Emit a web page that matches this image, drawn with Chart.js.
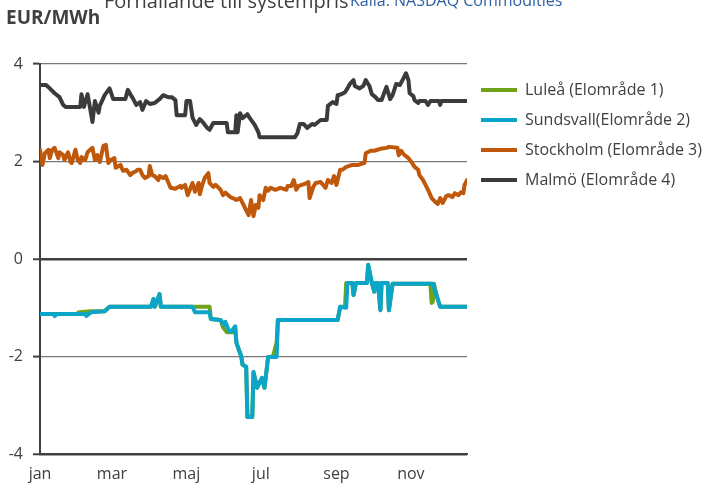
<!DOCTYPE html>
<html>
<head>
<meta charset="utf-8">
<script src="https://cdn.jsdelivr.net/npm/chart.js@4/dist/chart.umd.min.js"></script>
<style>
  html, body { margin: 0; padding: 0; background: #fff; }
  #wrap { width: 704px; height: 487px; position: relative; }
</style>
</head>
<body>
<div id="wrap"><canvas id="spreadChart"></canvas></div>
<script>
// days since 1 jan, month ticks and labels
const monthStarts = [0, 59, 120, 181, 243, 304];
const monthLabels = ["jan", "mar", "maj", "jul", "sep", "nov"];

const titleText = "Förhållande till systempris";
const sourceText = "Källa: NASDAQ Commodities";
const unitText = "EUR/MWh";

const seriesNames = ["Luleå (Elområde 1)", "Sundsvall(Elområde 2)", "Stockholm (Elområde 3)", "Malmö (Elområde 4)"];
const seriesColors = ["#6fa31a", "#0ba5c9", "#c0580c", "#3b3b3b"];

const luleaDays = [0, 30, 32, 42, 53, 57, 91, 93, 94, 98, 99, 139, 140, 148, 150, 153, 158, 160, 161, 165, 166, 169, 170, 174, 175, 178, 182, 184, 187, 191, 194, 195, 244, 246, 250, 251, 256, 257, 259, 268, 269, 272, 274, 275, 277, 279, 280, 285, 286, 289, 320, 321, 322, 323, 325, 328, 350];
const luleaValues = [-1.13, -1.13, -1.09, -1.07, -1.07, -0.98, -0.98, -0.82, -0.98, -0.72, -0.98, -0.98, -1.23, -1.25, -1.40, -1.50, -1.50, -1.42, -1.72, -2.00, -2.17, -2.21, -3.24, -3.24, -2.32, -2.64, -2.44, -2.64, -2.01, -2.00, -1.70, -1.25, -1.25, -0.98, -0.98, -0.49, -0.49, -0.74, -0.49, -0.49, -0.12, -0.49, -0.67, -0.49, -0.49, -1.05, -0.49, -0.49, -1.05, -0.51, -0.51, -0.90, -0.88, -0.51, -0.74, -0.98, -0.98];

const sundsvallDays = [0, 11, 12, 14, 37, 38, 42, 53, 57, 91, 93, 94, 98, 99, 125, 127, 139, 140, 148, 151, 152, 155, 157, 160, 161, 165, 166, 169, 170, 174, 175, 178, 182, 184, 187, 194, 195, 244, 246, 251, 252, 256, 257, 259, 268, 269, 272, 274, 275, 277, 279, 280, 285, 286, 289, 322, 325, 328, 350];
const sundsvallValues = [-1.13, -1.13, -1.17, -1.13, -1.13, -1.17, -1.09, -1.07, -0.98, -0.98, -0.82, -0.98, -0.72, -0.98, -0.98, -1.09, -1.09, -1.23, -1.25, -1.35, -1.29, -1.48, -1.48, -1.38, -1.72, -2.00, -2.17, -2.21, -3.24, -3.24, -2.32, -2.64, -2.44, -2.64, -2.01, -2.01, -1.25, -1.25, -0.98, -1.00, -0.49, -0.49, -0.74, -0.49, -0.49, -0.12, -0.49, -0.67, -0.49, -0.49, -1.05, -0.49, -0.49, -1.05, -0.51, -0.51, -0.74, -0.98, -0.98];

const stockholmDays = [0, 2, 4, 7, 8, 10, 12, 15, 16, 19, 20, 23, 25, 26, 29, 31, 33, 34, 37, 39, 41, 43, 45, 47, 49, 52, 54, 56, 58, 61, 62, 66, 68, 71, 74, 76, 78, 80, 82, 84, 86, 89, 90, 92, 94, 97, 98, 101, 103, 105, 107, 111, 115, 116, 119, 121, 125, 127, 130, 131, 133, 135, 138, 139, 142, 144, 148, 150, 152, 156, 158, 161, 164, 166, 169, 171, 173, 175, 177, 179, 180, 183, 185, 187, 189, 193, 197, 202, 203, 206, 208, 210, 212, 217, 220, 221, 224, 226, 230, 234, 236, 239, 241, 243, 246, 248, 251, 256, 261, 266, 267, 271, 274, 279, 284, 286, 293, 294, 296, 298, 302, 305, 307, 310, 311, 314, 316, 318, 320, 321, 324, 326, 328, 330, 333, 335, 338, 340, 343, 345, 347, 348, 350];
const stockholmValues = [2.24, 1.93, 2.17, 2.24, 2.07, 2.24, 2.28, 2.07, 2.19, 2.13, 2.03, 2.19, 1.99, 1.97, 2.24, 2.03, 1.97, 2.09, 2.03, 2.19, 2.24, 2.28, 2.03, 2.13, 1.99, 2.32, 2.34, 1.97, 2.03, 2.07, 1.87, 1.93, 1.81, 1.83, 1.72, 1.77, 1.79, 1.83, 1.83, 1.72, 1.66, 1.70, 1.91, 1.72, 1.70, 1.62, 1.70, 1.66, 1.70, 1.58, 1.46, 1.44, 1.50, 1.46, 1.52, 1.31, 1.56, 1.38, 1.56, 1.33, 1.52, 1.66, 1.76, 1.56, 1.48, 1.52, 1.42, 1.31, 1.36, 1.27, 1.25, 1.21, 1.25, 1.15, 1.00, 0.90, 1.21, 0.88, 1.11, 1.05, 1.31, 1.21, 1.46, 1.40, 1.46, 1.42, 1.46, 1.42, 1.50, 1.50, 1.62, 1.42, 1.50, 1.54, 1.58, 1.25, 1.48, 1.56, 1.58, 1.46, 1.62, 1.56, 1.70, 1.52, 1.83, 1.83, 1.89, 1.93, 1.93, 1.97, 2.17, 2.22, 2.22, 2.26, 2.28, 2.30, 2.28, 2.13, 2.22, 2.15, 2.07, 1.97, 1.89, 1.83, 1.72, 1.62, 1.52, 1.42, 1.31, 1.25, 1.17, 1.13, 1.25, 1.15, 1.29, 1.31, 1.27, 1.35, 1.31, 1.37, 1.35, 1.52, 1.62];

const malmoDays = [0, 5, 8, 12, 16, 19, 21, 33, 34, 36, 39, 41, 43, 45, 48, 49, 53, 57, 60, 70, 72, 75, 76, 79, 82, 84, 87, 90, 94, 98, 101, 105, 108, 111, 112, 117, 119, 120, 123, 125, 128, 131, 134, 137, 139, 142, 153, 154, 160, 161, 162, 164, 166, 170, 172, 176, 179, 180, 209, 211, 213, 216, 219, 223, 225, 230, 235, 236, 240, 243, 244, 247, 250, 252, 254, 257, 258, 262, 265, 267, 270, 272, 275, 277, 280, 282, 284, 287, 289, 292, 295, 298, 300, 302, 303, 306, 307, 310, 311, 316, 318, 320, 327, 328, 329, 350];
const malmoValues = [3.57, 3.57, 3.50, 3.40, 3.32, 3.16, 3.12, 3.12, 3.38, 3.12, 3.38, 3.10, 2.81, 3.24, 3.00, 3.14, 3.36, 3.50, 3.28, 3.28, 3.47, 3.34, 3.30, 3.16, 3.22, 3.06, 3.24, 3.18, 3.20, 3.28, 3.36, 3.32, 3.32, 3.26, 2.95, 2.95, 2.95, 3.24, 3.24, 2.90, 2.75, 2.87, 2.79, 2.69, 2.65, 2.79, 2.79, 2.60, 2.60, 2.95, 2.60, 2.99, 2.89, 2.97, 2.89, 2.75, 2.60, 2.50, 2.50, 2.58, 2.77, 2.77, 2.69, 2.77, 2.75, 2.85, 2.85, 3.14, 3.22, 3.18, 3.36, 3.38, 3.42, 3.50, 3.59, 3.67, 3.55, 3.50, 3.55, 3.67, 3.55, 3.38, 3.32, 3.26, 3.26, 3.40, 3.53, 3.28, 3.36, 3.59, 3.57, 3.71, 3.81, 3.67, 3.40, 3.34, 3.26, 3.20, 3.24, 3.24, 3.16, 3.24, 3.24, 3.16, 3.24, 3.24];

const axisColor = "#404040";
const textColor = "#404040";

function toPoints(days, values) {
    return days.map((d, i) => ({ x: d, y: values[i] }));
}

function makeDataset(index, days, values, order) {
    return {
        label: seriesNames[index],
        data: toPoints(days, values),
        borderColor: seriesColors[index],
        backgroundColor: seriesColors[index],
        borderWidth: 4,
        borderCapStyle: "round",
        borderJoinStyle: "round",
        pointRadius: 0,
        tension: 0,
        order: order
    };
}

// title lines and unit label sit above the plot
const headerText = {
    id: "headerText",
    afterDraw(chart) {
        const ctx = chart.ctx;
        ctx.save();
        ctx.textBaseline = "alphabetic";
        ctx.fillStyle = textColor;
        ctx.font = "20px 'Open Sans'";
        ctx.fillText(titleText, 104, 8);
        ctx.fillStyle = "#2f5fa5";
        ctx.font = "16px 'Open Sans'";
        ctx.fillText(sourceText, 350, 6);
        ctx.fillStyle = textColor;
        ctx.font = "bold 19px 'Open Sans'";
        ctx.fillText(unitText, 6, 24);
        ctx.restore();
    }
};

const canvas = document.getElementById("spreadChart");

new Chart(canvas, {
    type: "line",
    data: {
        datasets: [
            makeDataset(0, luleaDays, luleaValues, 1),
            makeDataset(1, sundsvallDays, sundsvallValues, 0),
            makeDataset(2, stockholmDays, stockholmValues, 2),
            makeDataset(3, malmoDays, malmoValues, 3)
        ]
    },
    plugins: [headerText],
    options: {
        responsive: true,
        maintainAspectRatio: false,
        animation: false,
        layout: {
            padding: { top: 64, left: 0, right: 0, bottom: 0 }
        },
        plugins: {
            title: { display: false },
            tooltip: { enabled: false },
            legend: {
                position: "right",
                align: "start",
                maxWidth: 237,
                // empty title only adds a small gap above the items
                title: {
                    display: true,
                    text: "",
                    font: { size: 4, lineHeight: 1 },
                    padding: 0
                },
                labels: {
                    usePointStyle: true,
                    pointStyle: "line",
                    pointStyleWidth: 36,
                    boxHeight: 16,
                    padding: 14,
                    color: textColor,
                    font: { family: "Open Sans", size: 16 },
                    sort: (a, b) => a.datasetIndex - b.datasetIndex
                }
            }
        },
        scales: {
            x: {
                type: "linear",
                min: 0,
                max: 350,
                afterBuildTicks: scale => {
                    scale.ticks = monthStarts.map(v => ({ value: v }));
                },
                afterFit: scale => {
                    scale.height = 33;
                },
                ticks: {
                    autoSkip: false,
                    maxRotation: 0,
                    padding: 11,
                    color: textColor,
                    font: { family: "Open Sans", size: 16 },
                    callback: (value, index) => monthLabels[index]
                },
                grid: { display: false, drawTicks: false },
                border: { display: true, color: axisColor, width: 2 }
            },
            y: {
                min: -4,
                max: 4,
                afterFit: scale => {
                    scale.width = 40;
                },
                ticks: {
                    stepSize: 2,
                    padding: 10,
                    color: textColor,
                    font: { family: "Open Sans", size: 16 },
                    callback: value => String(value)
                },
                grid: {
                    color: ctx => (ctx.tick.value === 0 || ctx.tick.value === -4) ? axisColor : "#7a7a7a",
                    lineWidth: ctx => (ctx.tick.value === 0 || ctx.tick.value === -4) ? 2.5 : 1.2,
                    tickLength: 7,
                    tickColor: axisColor,
                    tickWidth: 2
                },
                border: { display: true, color: axisColor, width: 2 }
            }
        }
    }
});
</script>
</body>
</html>
